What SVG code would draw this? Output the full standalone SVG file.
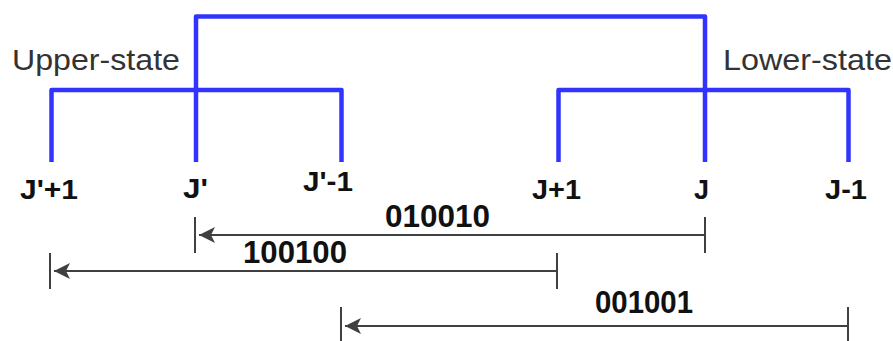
<svg xmlns="http://www.w3.org/2000/svg" width="893" height="341" viewBox="0 0 893 341">
<style>
.tree{fill:none;stroke:#3333ff;stroke-width:4.5;stroke-linejoin:round}
.arr{fill:none;stroke:#404040;stroke-width:2}
.tick{stroke:#404040;stroke-width:2}
.lbl{font-family:"Liberation Sans",Arial,sans-serif;font-weight:bold;font-size:27px;fill:#111;text-anchor:middle}
.num{font-family:"Liberation Sans",Arial,sans-serif;font-weight:bold;font-size:31px;fill:#111;text-anchor:middle}
.st{font-family:"Liberation Sans",Arial,sans-serif;font-size:30px;fill:#333}
</style>
<defs>
<marker id="ah" markerWidth="20" markerHeight="20" refX="17" refY="10" orient="auto" markerUnits="userSpaceOnUse">
<path d="M17,10 L1,2 L5,10 L1,18 Z" fill="#404040"/>
</marker>
</defs>
<rect width="893" height="341" fill="#fff"/>
<g id="connectors">
<path class="tree" d="M196,162 V16.5 H705 V162"/>
<path class="tree" d="M51.5,162 V90 H341.5 V162"/>
<path class="tree" d="M558.5,162 V90 H848.5 V162"/>
<line class="arr" x1="705" y1="235" x2="199" y2="235" marker-end="url(#ah)"/>
<line class="tick" x1="195" y1="217" x2="195" y2="253"/>
<line class="tick" x1="705" y1="217" x2="705" y2="253"/>
<line class="arr" x1="557" y1="271" x2="54" y2="271" marker-end="url(#ah)"/>
<line class="tick" x1="50" y1="253" x2="50" y2="289"/>
<line class="tick" x1="557" y1="253" x2="557" y2="289"/>
<line class="arr" x1="848" y1="326" x2="345" y2="326" marker-end="url(#ah)"/>
<line class="tick" x1="341" y1="307" x2="341" y2="341"/>
<line class="tick" x1="848" y1="307" x2="848" y2="341"/>
</g>
<g id="upper-state"><text class="st" x="12" y="70" textLength="168" lengthAdjust="spacingAndGlyphs">Upper-state</text></g>
<g id="lower-state"><text class="st" x="723" y="70" textLength="169" lengthAdjust="spacingAndGlyphs">Lower-state</text></g>
<g id="n-jp-plus1"><text class="lbl" x="49" y="199" textLength="58" lengthAdjust="spacingAndGlyphs">J'+1</text></g>
<g id="n-jp"><text class="lbl" x="195.5" y="198" textLength="25" lengthAdjust="spacingAndGlyphs">J'</text></g>
<g id="n-jp-minus1"><text class="lbl" x="328" y="191" textLength="50" lengthAdjust="spacingAndGlyphs">J'-1</text></g>
<g id="n-j-plus1"><text class="lbl" x="556.5" y="199" textLength="49" lengthAdjust="spacingAndGlyphs">J+1</text></g>
<g id="n-j"><text class="lbl" x="701.5" y="199">J</text></g>
<g id="n-j-minus1"><text class="lbl" x="846" y="199" textLength="42" lengthAdjust="spacingAndGlyphs">J-1</text></g>
<g id="l-010010"><text class="num" x="437.5" y="227" textLength="105" lengthAdjust="spacingAndGlyphs">010010</text></g>
<g id="l-100100"><text class="num" x="295" y="263" textLength="104" lengthAdjust="spacingAndGlyphs">100100</text></g>
<g id="l-001001"><text class="num" x="644" y="313" textLength="98" lengthAdjust="spacingAndGlyphs">001001</text></g>
</svg>
